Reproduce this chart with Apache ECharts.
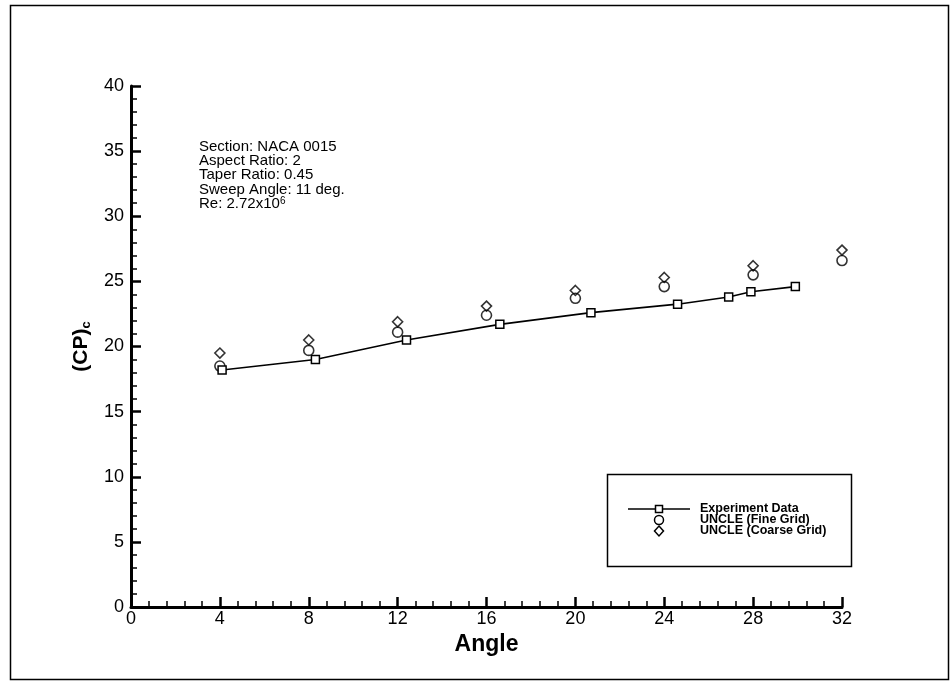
<!DOCTYPE html>
<html><head><meta charset="utf-8">
<script src="https://cdn.jsdelivr.net/npm/echarts@6/dist/echarts.min.js"></script>
<style>html,body{margin:0;padding:0;background:#fff}#c{width:952px;height:681px}</style>
</head><body><div id="c"></div>
<script>
// Experiment Data
var expAngle = [4.1, 8.3, 12.4, 16.6, 20.7, 24.6, 26.9, 27.9, 29.9];
var expCP    = [18.2, 19.0, 20.5, 21.7, 22.6, 23.25, 23.8, 24.2, 24.6];
// UNCLE (Fine Grid)
var fineAngle = [4, 8, 12, 16, 20, 24, 28, 32];
var fineCP    = [18.5, 19.7, 21.1, 22.4, 23.7, 24.6, 25.5, 26.6];
// UNCLE (Coarse Grid)
var coarseAngle = [4, 8, 12, 16, 20, 24, 28, 32];
var coarseCP    = [19.5, 20.5, 21.9, 23.1, 24.3, 25.3, 26.2, 27.4];
var xTicks = {min: 0, max: 32, interval: 4};
var yTicks = {min: 0, max: 40, interval: 5};
var seriesNames = ['Experiment Data', 'UNCLE (Fine Grid)', 'UNCLE (Coarse Grid)'];
var noteLines = ['Section: NACA 0015', 'Aspect Ratio: 2', 'Taper Ratio: 0.45', 'Sweep Angle: 11 deg.', 'Re: 2.72x10{s|6}'];

function pairs(a, b) { return a.map(function (v, i) { return [v, b[i]]; }); }

var FONT = '"Liberation Sans", Arial, sans-serif';
var chart = echarts.init(document.getElementById('c'));
var axisCommon = {
  axisLine: {show: true, onZero: false, lineStyle: {color: '#000', width: 3}},
  axisTick: {show: true, inside: true, length: 10, lineStyle: {color: '#000', width: 2.5}},
  minorTick: {show: true, splitNumber: 5, length: 6, lineStyle: {color: '#000', width: 1.5}},
  splitLine: {show: false}
};

// legend drawn as graphics (box, sample marks, labels)
var LX = 659, LY = [509, 520, 531];
var stroke = {fill: '#fff', stroke: '#000', lineWidth: 1.5};
var legendGraphics = [
  {type: 'rect', shape: {x: 607.5, y: 474.5, width: 244, height: 92}, style: {fill: 'none', stroke: '#000', lineWidth: 1.5}, silent: true},
  {type: 'line', shape: {x1: 628, y1: LY[0], x2: 690, y2: LY[0]}, style: {stroke: '#000', lineWidth: 1.5}, silent: true},
  {type: 'rect', shape: {x: LX - 3.5, y: LY[0] - 3.5, width: 7, height: 7}, style: stroke, silent: true, z: 2},
  {type: 'circle', shape: {cx: LX, cy: LY[1], r: 4.5}, style: {fill: 'none', stroke: '#000', lineWidth: 1.5}, silent: true},
  {type: 'polygon', shape: {points: [[LX, LY[2] - 5], [LX + 4.5, LY[2]], [LX, LY[2] + 5], [LX - 4.5, LY[2]]]}, style: {fill: 'none', stroke: '#000', lineWidth: 1.5}, silent: true}
];
seriesNames.forEach(function (n, i) {
  legendGraphics.push({type: 'text', x: 700, y: LY[i], style: {text: n, fill: '#000', font: 'bold 12.5px ' + FONT, verticalAlign: 'middle'}, silent: true});
});

chart.setOption({
  animation: false,
  backgroundColor: '#fff',
  grid: {left: 131, right: 110, top: 86, bottom: 74},
  xAxis: Object.assign({}, axisCommon, {
    type: 'value', min: xTicks.min, max: xTicks.max, interval: xTicks.interval,
    name: 'Angle', nameLocation: 'middle', nameGap: 26,
    nameTextStyle: {color: '#000', fontFamily: FONT, fontSize: 23, fontWeight: 'bold'},
    axisLabel: {color: '#000', fontFamily: FONT, fontSize: 18, margin: 3}
  }),
  yAxis: Object.assign({}, axisCommon, {
    type: 'value', min: yTicks.min, max: yTicks.max, interval: yTicks.interval,
    name: '(CP){sub|c}', nameLocation: 'middle', nameGap: 30,
    nameTextStyle: {color: '#000', fontFamily: FONT, fontSize: 21, fontWeight: 'bold',
      rich: {sub: {fontFamily: FONT, fontSize: 13, fontWeight: 'bold', verticalAlign: 'bottom', padding: [10, 0, 0, 0]}}},
    axisLabel: {color: '#000', fontFamily: FONT, fontSize: 18, margin: 7}
  }),
  series: [
    {name: seriesNames[0], type: 'line', data: pairs(expAngle, expCP),
     symbol: 'rect', symbolSize: 8, showAllSymbol: true,
     lineStyle: {color: '#000', width: 1.6},
     itemStyle: {color: '#fff', borderColor: '#000', borderWidth: 1.5}, z: 3},
    {name: seriesNames[1], type: 'scatter', data: pairs(fineAngle, fineCP),
     symbol: 'circle', symbolSize: 10,
     itemStyle: {color: 'rgba(255,255,255,0)', borderColor: '#000', borderWidth: 1.6}},
    {name: seriesNames[2], type: 'scatter', data: pairs(coarseAngle, coarseCP),
     symbol: 'diamond', symbolSize: 10,
     itemStyle: {color: 'rgba(255,255,255,0)', borderColor: '#000', borderWidth: 1.6}}
  ],
  graphic: [
    {type: 'rect', shape: {x: 10.5, y: 5.5, width: 938, height: 674}, style: {fill: 'none', stroke: '#000', lineWidth: 1.5}, silent: true},
    {type: 'text', left: 199, top: 139, style: {
      text: noteLines.join('\n'), fill: '#000', font: '15px ' + FONT, lineHeight: 14.3,
      rich: {s: {fontSize: 10, verticalAlign: 'top', padding: [0, 0, 8, 0], fill: '#000', fontFamily: FONT}}
    }}
  ].concat(legendGraphics)
});
</script></body></html>
